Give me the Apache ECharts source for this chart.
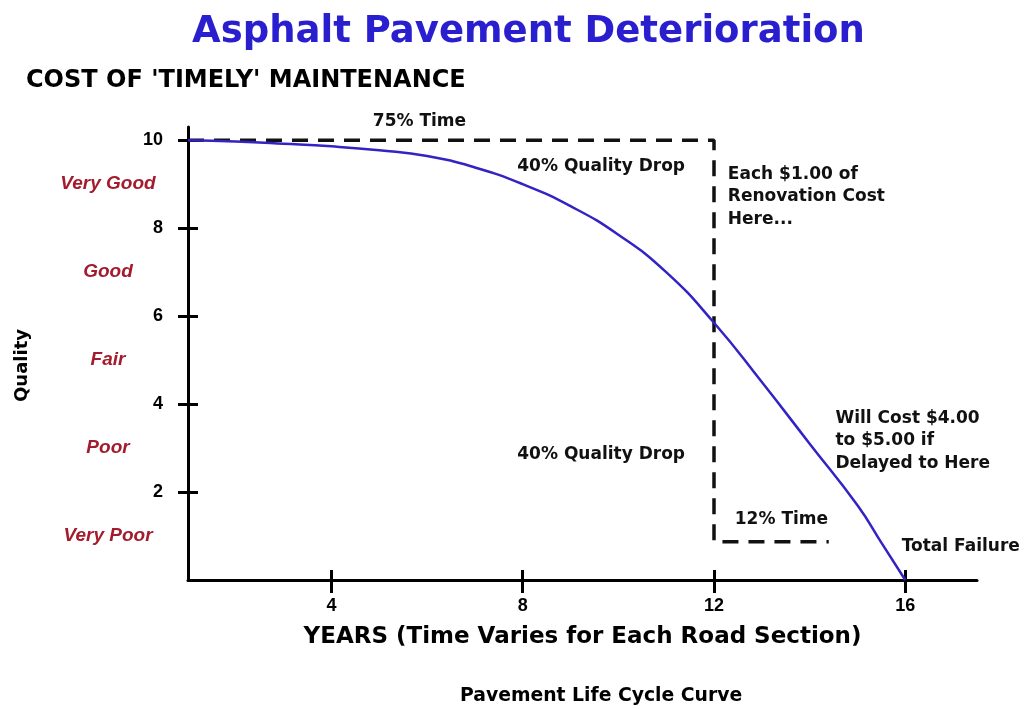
<!DOCTYPE html>
<html>
<head>
<meta charset="utf-8">
<title>Asphalt Pavement Deterioration</title>
<script src="https://cdn.jsdelivr.net/npm/echarts@6/dist/echarts.min.js"></script>
<style>
  html, body { margin: 0; padding: 0; background: #ffffff; }
  #chart { width: 1026px; height: 709px; }
</style>
</head>
<body>
<div id="chart"></div>
<script>
// curve (years -> quality)
const years = [1, 2, 3, 4, 5, 6, 7, 8, 9, 10, 11, 12, 13, 14, 15, 15.5, 16]
const quality = [10, 9.97, 9.92, 9.86, 9.77, 9.64, 9.38, 9.0, 8.5, 7.85, 7.0, 5.85, 4.5, 3.1, 1.7, 0.85, 0]

// dashed guide (75% time / 12% time box)
const guideX = [1, 12, 12, 14.4]
const guideY = [10, 10, 0.87, 0.87]

// axis ticks
const yearTicks = [4, 8, 12, 16]
const qualityTicks = [2, 4, 6, 8, 10]

// qualitative bands on the left
const levelNames = ['Very Poor', 'Poor', 'Fair', 'Good', 'Very Good']
const levelValues = [1, 3, 5, 7, 9]

// annotations, placed in data coordinates
const noteTexts = [
  '75% Time',
  '40% Quality Drop',
  'Each $1.00 of\nRenovation Cost\nHere...',
  '40% Quality Drop',
  'Will Cost $4.00\nto $5.00 if\nDelayed to Here',
  '12% Time',
  'Total Failure'
]
const noteX = [5.84, 9.64, 12.29, 9.64, 14.54, 13.41, 17.16]
const noteY = [10.43, 9.41, 8.71, 2.85, 3.17, 1.37, 0.75]

const myChart = echarts.init(document.getElementById('chart'))

const tickFont = {
  color: '#000000',
  fontFamily: 'Liberation Sans',
  fontWeight: 'bold',
  fontSize: 18
}

myChart.setOption({
  animation: false,
  title: [
    {
      text: 'Asphalt Pavement Deterioration',
      left: 187,
      top: 9,
      textStyle: { color: '#2a1fcf', fontFamily: 'DejaVu Sans', fontWeight: 'bold', fontSize: 37 }
    },
    {
      text: "COST OF 'TIMELY' MAINTENANCE",
      left: 21,
      top: 64,
      textStyle: { color: '#000000', fontFamily: 'DejaVu Sans', fontWeight: 'bold', fontSize: 24 }
    },
    {
      text: 'Pavement Life Cycle Curve',
      left: 455,
      top: 682,
      textStyle: { color: '#000000', fontFamily: 'DejaVu Sans', fontWeight: 'bold', fontSize: 18.8 }
    }
  ],
  grid: {
    left: 188,
    right: 49,
    top: 127,
    bottom: 129
  },
  xAxis: [
    {
      type: 'value',
      min: 1,
      max: 17.5,
      position: 'bottom',
      name: 'YEARS (Time Varies for Each Road Section)',
      nameLocation: 'middle',
      nameGap: 46,
      nameTextStyle: { color: '#000000', fontFamily: 'DejaVu Sans', fontWeight: 'bold', fontSize: 23 },
      splitLine: { show: false },
      axisLine: { show: true, lineStyle: { color: '#000000', width: 3 } },
      axisTick: { show: true, inside: false, length: 13, customValues: yearTicks, lineStyle: { color: '#000000', width: 3 } },
      axisLabel: Object.assign({ customValues: yearTicks, margin: 17 }, tickFont)
    },
    {
      type: 'value',
      min: 1,
      max: 17.5,
      position: 'bottom',
      splitLine: { show: false },
      axisLine: { show: false },
      axisTick: { show: true, inside: true, length: 10, customValues: yearTicks, lineStyle: { color: '#000000', width: 3 } },
      axisLabel: { show: false }
    }
  ],
  yAxis: [
    {
      type: 'value',
      min: 0,
      max: 10.3,
      position: 'left',
      name: 'Quality',
      nameLocation: 'middle',
      nameRotate: 90,
      nameGap: 157,
      nameTextStyle: { color: '#000000', fontFamily: 'DejaVu Sans', fontWeight: 'bold', fontSize: 18, padding: [0, 24, 0, 0] },
      splitLine: { show: false },
      axisLine: { show: true, lineStyle: { color: '#000000', width: 3 } },
      axisTick: { show: true, inside: false, length: 10, customValues: qualityTicks, lineStyle: { color: '#000000', width: 3 } },
      axisLabel: Object.assign({ customValues: qualityTicks, margin: 25 }, tickFont)
    },
    {
      type: 'value',
      min: 0,
      max: 10.3,
      position: 'left',
      splitLine: { show: false },
      axisLine: { show: false },
      axisTick: { show: true, inside: true, length: 10, customValues: qualityTicks, lineStyle: { color: '#000000', width: 3 } },
      axisLabel: { show: false }
    },
    {
      type: 'value',
      min: 0,
      max: 10.3,
      position: 'left',
      splitLine: { show: false },
      axisLine: { show: false },
      axisTick: { show: false },
      axisLabel: {
        customValues: levelValues,
        margin: 80,
        align: 'center',
        color: '#a31b2c',
        fontFamily: 'Liberation Sans',
        fontWeight: 'bold',
        fontStyle: 'italic',
        fontSize: 19,
        formatter: function(v) {
          const idx = levelValues.indexOf(v)
          return idx >= 0 ? levelNames[idx] : ''
        }
      }
    }
  ],
  series: [
    {
      name: 'guide',
      type: 'line',
      silent: true,
      symbol: 'none',
      data: guideX.map((x, i) => [x, guideY[i]]),
      lineStyle: { color: '#111111', width: 3.5, type: [16, 10] },
      z: 2
    },
    {
      name: 'quality',
      type: 'line',
      symbol: 'none',
      smooth: 0.5,
      data: years.map((x, i) => [x, quality[i]]),
      lineStyle: { color: '#3322c4', width: 2.5 },
      z: 3
    },
    {
      name: 'notes',
      type: 'scatter',
      silent: true,
      clip: false,
      symbolSize: 0,
      itemStyle: { color: '#000000', opacity: 0 },
      data: noteX.map((x, i) => ({
        value: [x, noteY[i]],
        label: {
          show: true,
          formatter: noteTexts[i],
          position: 'inside',
          align: noteTexts[i].indexOf('\n') >= 0 ? 'left' : 'center',
          verticalAlign: 'middle'
        }
      })),
      label: {
        color: '#111111',
        opacity: 1,
        textBorderWidth: 0,
        fontFamily: 'DejaVu Sans',
        fontWeight: 'bold',
        fontSize: 17,
        lineHeight: 22.5
      },
      z: 4
    }
  ]
})
window.addEventListener('resize', function() {
  myChart.resize()
})
</script>
</body>
</html>
